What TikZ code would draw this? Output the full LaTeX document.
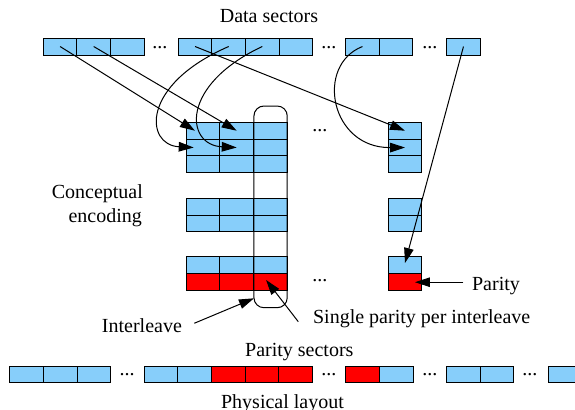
\documentclass[tikz,border=0pt]{standalone}
\usepackage{fontspec}
\setmainfont{Liberation Serif}
\usetikzlibrary{arrows.meta,calc}
\definecolor{sky}{RGB}{135,206,250}
\definecolor{par}{RGB}{255,0,0}
\begin{document}
\begin{tikzpicture}[x=0.5pt,y=-0.5pt,
 cell/.style={draw=black,line width=0.5pt,fill=sky,minimum width=16.8pt,minimum height=8.4pt,inner sep=0pt,outer sep=0pt},
 pcell/.style={cell,fill=par},
 lbl/.style={inner sep=0pt,font=\fontsize{10}{12}\selectfont},
 arr/.style={draw=black,line width=0.5pt,-{Triangle[length=7.5pt,width=4.8pt]}},
 frame/.style={draw=black,line width=0.5pt,rounded corners=5pt,inner sep=0pt,outer sep=0pt}
]
\useasboundingbox (0,0) rectangle (575,409);
% top row: data sectors
\foreach \n/\x in {A1/60.1,A2/93.7,A3/127.3,B1/195.1,B2/228.7,B3/262.3,B4/295.9,C1/362.5,C2/396.1,D1/463.5}
  \node[cell,minimum height=8.5pt] (t\n) at (\x,46.5) {};
% conceptual encoding blocks
\foreach \r/\y in {1/130.7,2/147.5,3/164.3,4/206.6,5/223.4,6/265.2}
  \foreach \c/\x in {1/202.9,2/236.7,3/270.5,4/405}
    \node[cell] (m\r\c) at (\x,\y) {};
\foreach \c/\x in {1/202.9,2/236.7,3/270.5,4/405}
  \node[pcell] (m7\c) at (\x,282.2) {};
% interleave frame
\node[frame,minimum width=16.65pt,minimum height=100.85pt] (ilv) at (270.6,206.85) {};
% bottom row: physical layout
\foreach \n/\x in {1/26.8,2/60.4,3/94.0,4/161.1,5/194.7,9/396.4,10/463.5,11/497.1,12/565.1}
  \node[cell,minimum height=8.35pt] (b\n) at (\x,374.5) {};
\foreach \n/\x in {6/228.3,7/261.9,8/295.5,13/362.8}
  \node[pcell,minimum height=8.35pt] (b\n) at (\x,374.5) {};
% dots
\node[lbl,anchor=base] (dt1) at (160,48) {...};
\node[lbl,anchor=base] (dt2) at (329,48) {...};
\node[lbl,anchor=base] (dt3) at (430,48) {...};
\node[lbl,anchor=base] (dm1) at (320,131) {...};
\node[lbl,anchor=base] (dm2) at (320,281) {...};
\node[lbl,anchor=base] (db1) at (127,375.5) {...};
\node[lbl,anchor=base] (db2) at (329,375.5) {...};
\node[lbl,anchor=base] (db3) at (430,375.5) {...};
\node[lbl,anchor=base] (db4) at (530,375.5) {...};
% labels
\node[lbl,anchor=base] (ds) at (269,22) {Data sectors};
\node[lbl,anchor=base east] (ce1) at (143.3,198.2) {Conceptual};
\node[lbl,anchor=base east] (ce2) at (142.3,222.3) {encoding};
\node[lbl,anchor=base east] (il) at (182.3,332.7) {Interleave};
\node[lbl,anchor=base west] (sp) at (312.7,323.5) {Single parity per interleave};
\node[lbl,anchor=base west] (pa) at (471.7,290.7) {Parity};
\node[lbl,anchor=base] (ps) at (299.3,356.7) {Parity sectors};
\node[lbl,anchor=base] (pl) at (282.5,408.5) {Physical layout};
% arrows
\draw[arr] (tA1.center) -- ([xshift=-4pt]m11.center);
\draw[arr] (tA2.center) -- (m12.center);
\draw[arr] (tB1.center) -- (m14.center);
\draw[arr] (tB2.center) .. controls (140,85) and (145,145) .. ([xshift=-4.6pt]m21.center);
\draw[arr] (tB3.center) .. controls (180,85) and (185,145) .. (m22.center);
\draw[arr] (tC1.center) .. controls (315,65) and (330,148) .. (m24.center);
\draw[arr] (tD1.center) -- ([yshift=1.1pt]m64.center);
\coordinate (spstart) at (298.3,321.7);
\draw[arr] ([xshift=6pt,yshift=1.3pt]il.east) -- ([yshift=4.7pt]ilv.south west);
\draw[arr] (spstart) -- ([xshift=-2.2pt,yshift=1.1pt]m73.center);
\draw[arr] ($(pa.west |- m74.center)+(-4.2pt,0)$) -- ([xshift=5pt]m74.center);
\end{tikzpicture}
\end{document}
